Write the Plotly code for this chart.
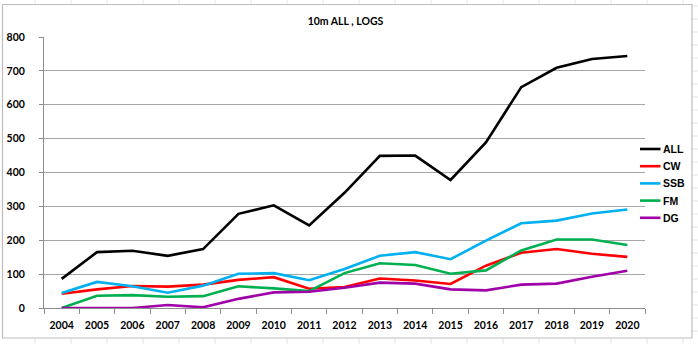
import plotly.graph_objects as go

# Yearly log counts on the 10m band, by mode
years = [str(y) for y in range(2004, 2021)]
series_names = ["ALL", "CW", "SSB", "FM", "DG"]
all_logs = [86, 165, 169, 154, 174, 278, 303, 244, 340, 449, 450, 378, 489, 652, 709, 735, 744]
cw_logs = [42, 55, 65, 63, 69, 83, 91, 57, 62, 87, 81, 71, 125, 163, 174, 160, 151]
ssb_logs = [44, 77, 64, 45, 66, 101, 103, 82, 115, 154, 165, 144, 199, 250, 258, 279, 291]
fm_logs = [0, 36, 38, 33, 35, 64, 58, 50, 103, 132, 127, 101, 111, 170, 202, 202, 186]
dg_logs = [0, 0, 0, 9, 2, 27, 46, 48, 60, 75, 72, 55, 52, 69, 72, 92, 110]
series_values = [all_logs, cw_logs, ssb_logs, fm_logs, dg_logs]
series_colors = ["#000000", "#ff0000", "#00b0f0", "#00b050", "#a000a8"]
y_ticks = list(range(0, 801, 100))

W, H = 698, 344
L, R, T, B = 44, 53, 37, 36
plot_w = W - L - R
plot_h = H - T - B


def px_x(p):
    return (p - L) / plot_w


def px_y(p):
    return (H - B - p) / plot_h


fig = go.Figure()
for name, vals, col in zip(series_names, series_values, series_colors):
    fig.add_trace(go.Scatter(
        x=years, y=vals, mode="lines", name=name,
        line=dict(color=col, width=2.6), showlegend=False,
    ))

tick_font = dict(family="Lato", size=10.5, color="#000000", weight="bold")

shapes = []
annotations = []

# Faint worksheet cell lines behind the chart frame
for cx in range(35, W, 36):
    shapes.append(dict(type="line", xref="paper", yref="paper",
                       x0=px_x(cx), x1=px_x(cx), y0=px_y(0), y1=px_y(4),
                       line=dict(color="#e4e4e4", width=1), layer="below"))
    shapes.append(dict(type="line", xref="paper", yref="paper",
                       x0=px_x(cx), x1=px_x(cx), y0=px_y(338), y1=px_y(H),
                       line=dict(color="#e4e4e4", width=1), layer="below"))
for cy in range(6, H, 13):
    shapes.append(dict(type="line", xref="paper", yref="paper",
                       x0=px_x(692), x1=px_x(W), y0=px_y(cy), y1=px_y(cy),
                       line=dict(color="#e4e4e4", width=1), layer="below"))

# Chart frame
shapes.append(dict(type="rect", xref="paper", yref="paper",
                   x0=px_x(2.5), x1=px_x(692), y0=px_y(338), y1=px_y(4.5),
                   line=dict(color="#bdbdbd", width=1.2), layer="below",
                   fillcolor="rgba(0,0,0,0)"))

# Legend: short coloured line followed by the series name
leg_top = 149
leg_step = 17.2
for i, (name, col) in enumerate(zip(series_names, series_colors)):
    yy = px_y(leg_top + i * leg_step)
    shapes.append(dict(type="line", xref="paper", yref="paper",
                       x0=px_x(640), x1=px_x(660.5), y0=yy, y1=yy,
                       line=dict(color=col, width=2.6)))
    annotations.append(dict(text=name, xref="paper", yref="paper",
                            x=px_x(661), y=yy, xanchor="left", yanchor="middle",
                            showarrow=False,
                            font=dict(family="Liberation Sans", size=10.5,
                                      color="#000000", weight="bold")))

fig.update_layout(
    width=W, height=H,
    margin=dict(l=L, r=R, t=T, b=B, autoexpand=False),
    paper_bgcolor="#ffffff", plot_bgcolor="#ffffff",
    title=dict(text="10m ALL , LOGS", x=px_x(345.5), xref="paper", xanchor="center",
               y=1 - 21 / H, yref="container", yanchor="middle",
               font=dict(family="Lato", size=10.5, color="#000000", weight="bold")),
    xaxis=dict(type="category", range=[-0.5, len(years) - 0.5],
               showgrid=False, showline=True, linecolor="#8c8c8c", linewidth=1,
               ticks="outside", tickson="boundaries", ticklen=5, tickcolor="#8c8c8c",
               ticklabelstandoff=7,
               tickfont=tick_font, fixedrange=True),
    yaxis=dict(range=[0, 800], tickvals=y_ticks,
               showgrid=True, gridcolor="#a6a6a6", gridwidth=1,
               showline=True, linecolor="#8c8c8c", linewidth=1,
               ticks="outside", ticklen=4, tickcolor="#8c8c8c",
               ticklabelstandoff=12,
               tickfont=tick_font, zeroline=False, fixedrange=True),
    shapes=shapes,
    annotations=annotations,
)

fig.write_html("out.html")
